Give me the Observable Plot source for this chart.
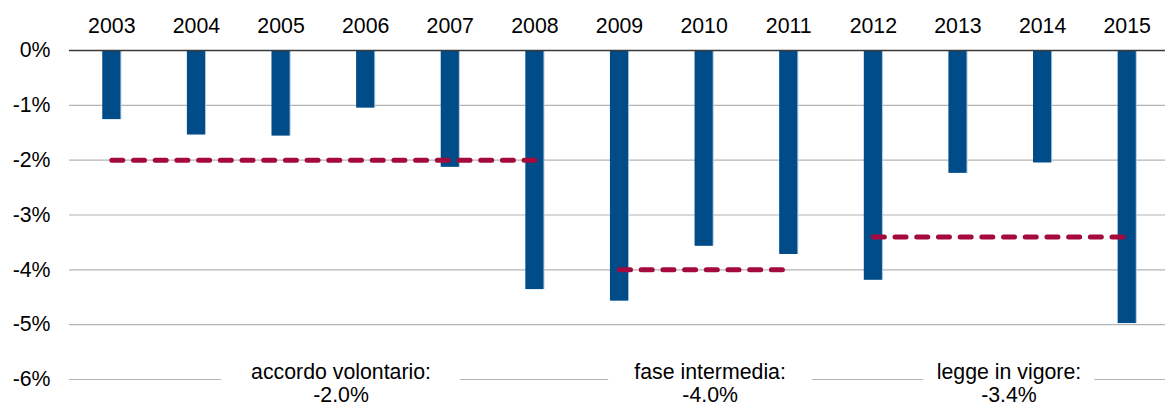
<!DOCTYPE html>
<html>
<head>
<meta charset="utf-8">
<script src="https://cdn.jsdelivr.net/npm/d3@7"></script>
<script src="https://cdn.jsdelivr.net/npm/@observablehq/plot@0.6"></script>
<style>
  html, body { margin: 0; padding: 0; background: #fff; }
  svg { display: block; }
</style>
</head>
<body>
<div id="chart"></div>
<script>
// Data
const years = ["2003","2004","2005","2006","2007","2008","2009","2010","2011","2012","2013","2014","2015"];
const values = [-1.26, -1.54, -1.56, -1.05, -2.13, -4.36, -4.57, -3.57, -3.72, -4.19, -2.24, -2.05, -4.98];
const yTicks = [0, -1, -2, -3, -4, -5, -6];

const periodLabels = ["accordo volontario:\n-2.0%", "fase intermedia:\n-4.0%", "legge in vigore:\n-3.4%"];
const periodAverages = [-2.0, -4.0, -3.4];
const periodStart = ["2003", "2009", "2012"];
const periodEnd = ["2008", "2011", "2015"];
const labelAnchorYear = ["2005", "2010", "2013"];

const bars = years.map((year, i) => ({year, value: values[i]}));
const periods = periodLabels.map((label, i) => ({
  label, avg: periodAverages[i], start: periodStart[i], end: periodEnd[i], anchor: labelAnchorYear[i]
}));

// layout constants (not data)
const labelDx = [60, 6, 51];
const labelGap = [62, 56, 30];
const font = "Liberation Sans, Arial, sans-serif";
const fs = 21.3;

const labelOpts = (i) => ({
  x: "anchor", y: -6, text: "label", dx: labelDx[i], dy: 4,
  lineAnchor: "middle", lineHeight: 1.05, fontSize: fs
});

const chart = Plot.plot({
  width: 1165,
  height: 403,
  marginLeft: 69,
  marginRight: 0,
  marginTop: 50,
  marginBottom: 24,
  style: {fontFamily: font, fontSize: fs + "px", color: "#000", background: "#fff"},
  x: {domain: years, range: [69, 1169], paddingInner: 0.786, paddingOuter: 0.393, round: false, label: null},
  y: {domain: [-6, 0], label: null},
  marks: [
    Plot.ruleY(yTicks.filter(d => d !== 0), {stroke: "#b4b4b4", strokeWidth: 1.2}),
    Plot.axisY({ticks: yTicks, tickFormat: d => `${d}%`, tickSize: 0, tickPadding: 19, fontSize: fs, label: null}),
    Plot.axisX({anchor: "top", tickSize: 0, tickPadding: 18, fontSize: fs, label: null}),
    Plot.barY(bars, {x: "year", y: "value", fill: "#a9c3de", dx: 1}),
    Plot.barY(bars, {x: "year", y: "value", fill: "#004c89"}),
    Plot.ruleY([0], {stroke: "#3a3a3a", strokeWidth: 1.5}),
    Plot.link(periods, {
      x1: "start", x2: "end", y1: "avg", y2: "avg",
      stroke: "#a50a3d", strokeWidth: 5, strokeLinecap: "round", strokeDasharray: "11 10.7"
    }),
    // white boxes behind the period labels, interrupting the bottom gridline
    ...periods.map((p, i) => Plot.text([p], {
      ...labelOpts(i), fill: "white", stroke: "white", strokeWidth: labelGap[i], strokeLinejoin: "round"
    })),
    ...periods.map((p, i) => Plot.text([p], {
      ...labelOpts(i), fill: "#000"
    }))
  ]
});

document.getElementById("chart").appendChild(chart);
</script>
</body>
</html>
